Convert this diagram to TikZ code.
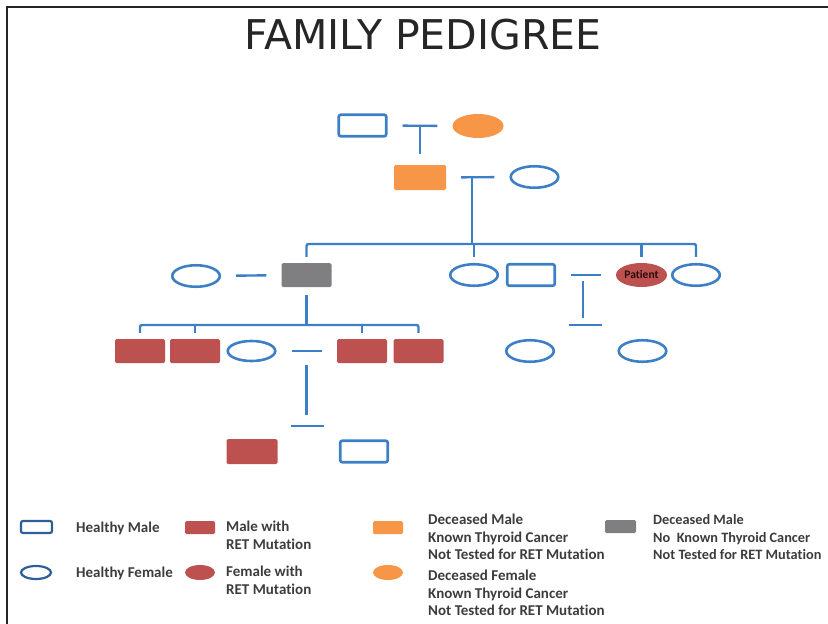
\documentclass[tikz,border=0pt]{standalone}
\usepackage{fontspec}
\setmainfont{Carlito}[Ligatures=NoCommon]
\newfontfamily\titlefont{DejaVu Sans}
\usetikzlibrary{shapes.geometric}
\definecolor{pedblue}{HTML}{3C7FC6}
\definecolor{keyblue}{HTML}{2E5E9A}
\definecolor{retred}{HTML}{BC5150}
\definecolor{thyorange}{HTML}{F79646}
\definecolor{deadgray}{HTML}{7F7F81}
\definecolor{keytext}{HTML}{3C3C3C}
\definecolor{titlegray}{HTML}{262626}
\definecolor{patienttext}{HTML}{2A0A0A}

\begin{document}
\begin{tikzpicture}[x=1pt,y=-1pt,
  link/.style={draw=pedblue,line width=2.4pt},
  couple/.style={link,shorten <=15pt,shorten >=15pt},
  male node/.style={rectangle,rounded corners=2pt,draw=pedblue,line width=2.6pt,minimum width=47.5pt,minimum height=21.5pt,inner sep=0pt},
  female node/.style={ellipse,draw=pedblue,line width=2.6pt,minimum width=47.5pt,minimum height=21.5pt,inner sep=0pt},
  ret male/.style={rectangle,rounded corners=1.5pt,fill=retred,minimum width=50pt,minimum height=24pt,inner sep=0pt},
  ret female/.style={ellipse,fill=retred,minimum width=51pt,minimum height=24pt,inner sep=0pt},
  thy male/.style={ret male,fill=thyorange},
  thy female/.style={ret female,fill=thyorange},
  dead male/.style={ret male,fill=deadgray},
  key male/.style={male node,draw=keyblue,line width=2.2pt,minimum width=31pt,minimum height=12pt},
  key female/.style={female node,draw=keyblue,line width=2.2pt,minimum width=30pt,minimum height=13pt},
  key box/.style={minimum width=30pt,minimum height=13pt},
  key text/.style={anchor=west,align=left,inner sep=0pt,text=keytext,font=\bfseries\fontsize{15}{17.5}\selectfont}]
  \useasboundingbox (0,0) rectangle (828,624);
  \clip (0,0) rectangle (828,624);
  \draw[line width=2pt,titlegray] (7,624) -- (7,7) -- (828,7);
  \node[font=\titlefont\fontsize{41}{41}\selectfont,text=titlegray,inner sep=0pt] (title) at (423,35) {FAMILY PEDIGREE};

  \node[male node] (gpa) at (362.5,125.5) {};
  \node[thy female] (gma) at (478,126) {};
  \node[thy male,minimum width=52pt,minimum height=25pt] (dad) at (420,177.5) {};
  \node[female node] (mom) at (534.5,177) {};
  \node[female node] (wife) at (196,276) {};
  \node[dead male] (uncle) at (306.5,275) {};
  \node[female node] (aunt) at (474,275) {};
  \node[male node] (husb) at (531,275) {};
  \node[ret female,font=\bfseries\fontsize{11.5}{11.5}\selectfont,text=patienttext] (pat) at (641.5,275) {Patient};
  \node[female node] (sis) at (696,275) {};
  \node[ret male] (c1) at (140,351) {};
  \node[ret male] (c2) at (195,351) {};
  \node[female node,minimum height=20pt] (cw) at (251.5,351) {};
  \node[ret male] (c4) at (362,351) {};
  \node[ret male] (c5) at (418.5,351) {};
  \node[female node] (d1) at (530,351) {};
  \node[female node] (d2) at (642.5,351) {};
  \node[ret male,minimum width=51pt,minimum height=25pt] (g1) at (252,451.5) {};
  \node[male node] (g2) at (364,451.5) {};

  \coordinate (m1) at (420,125.5);
  \coordinate (m2) at (472,178);
  \coordinate (s0) at (472,244);
  \coordinate (k1) at (306,325);
  \coordinate (m4) at (583,276);
  \coordinate (k2) at (585.5,325);
  \coordinate (m5) at (306.5,351);
  \coordinate (k3) at (307.5,426);

  \draw[couple] (gpa) -- (gma);
  \draw[link,shorten >=11pt] (m1) -- (dad);
  \draw[couple] (dad) -- (mom);
  \draw[link] (m2) -- (s0);
  \draw[link,rounded corners=2pt,shorten <=6pt,shorten >=6pt] (uncle.north) |- (s0) -| (sis.north);
  \foreach \n in {aunt,pat}
    \draw[link,shorten >=6pt] (\n.north |- s0) -- (\n.north);
  \draw[couple] (wife) -- (uncle);
  \draw[couple] (husb) -- (pat);
  \draw[link,shorten <=8pt] (uncle.south) -- (uncle.south |- k1);
  \draw[link,rounded corners=2pt,shorten <=6pt,shorten >=6pt] (c1.north) |- (k1) -| (c5.north);
  \foreach \n in {c2,c4}
    \draw[link,shorten >=6pt] (\n.north |- k1) -- (\n.north);
  \draw[link,shorten <=5pt,shorten >=7pt] (m4) -- (m4 |- k2);
  \draw[link] ([xshift=-16.5pt]k2) -- ([xshift=16.5pt]k2);
  \draw[couple] (cw) -- (c4);
  \draw[link,shorten <=14pt,shorten >=11pt] (m5) -- (m5 |- k3);
  \draw[link] ([xshift=-16.5pt]k3) -- ([xshift=16.5pt]k3);

  \node[key male] (kmale) at (36.5,527) {};
  \node[key female] (kfemale) at (36,572.5) {};
  \node[key text,anchor=base west] (tmale) at (76,532) {Healthy Male};
  \node[key text,anchor=base west] (tfemale) at (76,577) {Healthy Female};
  \node[ret male,key box] (kretm) at (200,527.5) {};
  \node[ret female,key box,minimum height=15pt] (kretf) at (200,572.5) {};
  \node[key text] (tretm) at (226,535.4) {Male with\\RET Mutation};
  \node[key text] (tretf) at (226,580.4) {Female with\\RET Mutation};
  \node[thy male,key box] (kthym) at (388,527.5) {};
  \node[thy female,key box,minimum height=15pt] (kthyf) at (388,572.5) {};
  \node[key text] (tthym) at (428,537.1) {Deceased Male\\Known Thyroid Cancer\\Not Tested for RET Mutation};
  \node[key text] (tthyf) at (428,593.1) {Deceased Female\\Known Thyroid Cancer\\Not Tested for RET Mutation};
  \node[dead male,key box,minimum width=31pt] (kdead) at (620.5,526.5) {};
  \node[key text,font=\bfseries\fontsize{14.3}{17.5}\selectfont] (tdead) at (653,537.1) {Deceased Male\\No\ \ Known Thyroid Cancer\\Not Tested for RET Mutation};
\end{tikzpicture}
\end{document}
